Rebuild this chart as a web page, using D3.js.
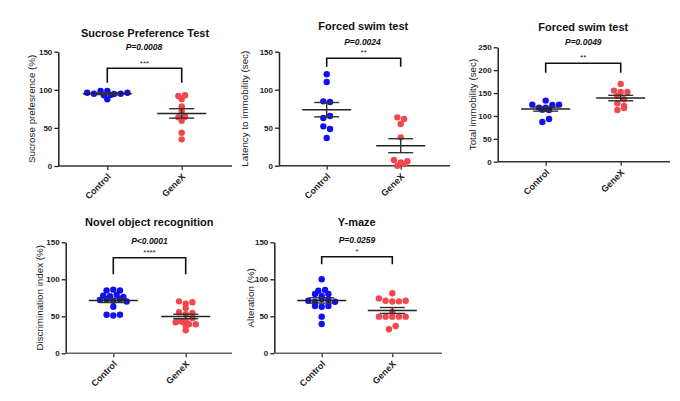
<!DOCTYPE html>
<html>
<head>
<meta charset="utf-8">
<script src="https://cdn.jsdelivr.net/npm/d3@7"></script>
<style>
  html, body { margin: 0; padding: 0; background: #fff; }
  svg { display: block; }
  text { font-family: "Liberation Sans", Arial, sans-serif; }
</style>
</head>
<body>
<svg id="chart" width="680" height="401"></svg>
<script>
// ---------------- DATA ----------------
const categories = ["Control", "GeneX"];

const titles = ["Sucrose Preference Test", "Forced swim test", "Forced swim test",
                "Novel object recognition", "Y-maze"];
const yLabels = ["Sucrose prefesrence (%)", "Latency to immobility (sec)", "Total immobility (sec)",
                 "Discrimination index (%)", "Alteration (%)"];
const pValues = ["P=0.0008", "P=0.0024", "P=0.0049", "P<0.0001", "P=0.0259"];
const stars   = ["***", "**", "**", "****", "*"];

const ticks150 = [0, 50, 100, 150];
const ticks250 = [0, 50, 100, 150, 200, 250];

// Sucrose preference (%)
const sucroseControl = [96.2, 94.9, 92.7, 98.4, 87.5, 98.4, 93.3, 94.5, 94.9, 96.2];
const sucroseGeneX   = [91.9, 92.8, 87.9, 78.3, 72.6, 63.9, 64.7, 59.5, 43.7, 35.0];

// Forced swim: latency to immobility (sec)
const latencyControl = [120.3, 110.1, 84.7, 83.8, 62.8, 65.4, 51.8, 48.3, 36.4];
const latencyGeneX   = [63.6, 61.4, 54.9, 37.3, 7.5, 4.4, 0, 2.2, 5.8];

// Forced swim: total immobility (sec)
const immobilityControl = [124.7, 118.2, 113.8, 133.5, 113.1, 118.2, 124.1, 124.7, 86.9, 93.4];
const immobilityGeneX   = [170, 155.4, 152.5, 152.5, 143.8, 136.5, 127.8, 121.9, 113.1, 117.5];

// Novel object recognition: discrimination index (%)
const norControl = [85, 86, 85, 78, 77, 79, 76, 72, 73, 71, 73, 70, 63, 52, 51, 52];
const norGeneX   = [70.2, 67.1, 68.9, 61.2, 55.4, 52.7, 54.5, 43.6, 44.1, 41.9, 42.7, 47.7, 39.2, 39.2, 37.3, 31.1];

// Y-maze: alteration (%)
const ymazeControl = [100, 84.6, 85.5, 80.1, 77.4, 80.1, 71.1, 69.7, 73.4, 72.0, 69.7, 63.9, 63.0, 63.9, 49.5, 39.6];
const ymazeGeneX   = [81.1, 74.2, 71.1, 70.0, 70.2, 71.1, 55.8, 49.5, 49.5, 49.5, 49.5, 49.5, 32.4, 36.9];

const seriesByPanel = [
  [sucroseControl, sucroseGeneX],
  [latencyControl, latencyGeneX],
  [immobilityControl, immobilityGeneX],
  [norControl, norGeneX],
  [ymazeControl, ymazeGeneX]
];
const yMaxes = [150, 150, 250, 150, 150];
const tickSets = [ticks150, ticks150, ticks250, ticks150, ticks150];

// ---------------- LAYOUT ----------------
const layout = [
  { axisX: 58.3, c: 107.3, g: 181.7, y0: 166,   yTop: 51.7, xEnd: 232, titleX: 145,   titleY: 32.7, pX: 144,   pY: 46.7, starY: 61.7, brTop: 68.3, brBot: 82.7, labX: 31.7 },
  { axisX: 279,  c: 326.7, g: 400.7, y0: 165.7, yTop: 51.7, xEnd: 450, titleX: 363.3, titleY: 26,   pX: 362.5, pY: 41.7, starY: 50.7, brTop: 58.3, brBot: 66.7, labX: 245 },
  { axisX: 497.7,c: 545.7, g: 620.7, y0: 161.7, yTop: 47.3, xEnd: 670, titleX: 583.3, titleY: 27.3, pX: 583.3, pY: 42.3, starY: 55.7, brTop: 63.3, brBot: 72.7, labX: 472.7 },
  { axisX: 65.7, c: 113.3, g: 185.7, y0: 353.3, yTop: 242.3,xEnd: 232, titleX: 149.3, titleY: 222.3,pX: 149.5, pY: 240.7,starY: 251,  brTop: 257.7,brBot: 274.3,labX: 40 },
  { axisX: 274.3,c: 321.7, g: 392.3, y0: 353.3, yTop: 242.3,xEnd: 442, titleX: 356.7, titleY: 222.3,pX: 357,   pY: 240,  starY: 250,  brTop: 256.7,brBot: 264.3,labX: 250.7 }
];

const colors = ["#1010f2", "#f4474d"];
const dotR = 3.2, dotStep = 6.7, rowTol = 3.5;
const meanHalf = 24.5, semHalf = 12.5;

const svg = d3.select("#chart");

// Row-based scatter layout (GraphPad-like column scatter)
function scatterLayout(values, y, cx) {
  const pts = values.map((v, i) => ({ v, i, py: y(v) }));
  const sorted = pts.slice().sort((a, b) => a.py - b.py || a.i - b.i);
  const rows = [];
  let cur = null;
  sorted.forEach(p => {
    if (!cur || p.py - cur.start >= rowTol) { cur = { start: p.py, pts: [] }; rows.push(cur); }
    cur.pts.push(p);
  });
  rows.forEach(r => {
    r.pts.sort((a, b) => a.i - b.i);
    const n = r.pts.length;
    r.pts.forEach((p, k) => { p.px = cx + (k - (n - 1) / 2) * dotStep; });
  });
  return pts;
}

layout.forEach((L, pi) => {
  const g = svg.append("g");
  const y = d3.scaleLinear().domain([0, yMaxes[pi]]).range([L.y0, L.yTop]);
  const x = d3.scalePoint().domain(categories).range([L.c, L.g]);

  // Y axis
  const yAxis = d3.axisLeft(y).tickValues(tickSets[pi]).tickSize(4).tickSizeOuter(0).tickPadding(2);
  const ya = g.append("g").attr("transform", `translate(${L.axisX},0)`).call(yAxis);
  ya.select(".domain").attr("stroke", "#222").attr("stroke-width", 1.5);
  ya.selectAll(".tick line").attr("stroke", "#222").attr("stroke-width", 1.3);
  ya.selectAll(".tick text").attr("font-size", 8).attr("font-weight", "bold").attr("fill", "#222")
    .style("font-family", '"Liberation Sans", Arial, sans-serif');

  // X axis
  const xAxis = d3.axisBottom(x).tickSize(4).tickSizeOuter(0).tickFormat("");
  const xa = g.append("g").attr("transform", `translate(0,${L.y0})`).call(xAxis);
  xa.select(".domain").remove();
  xa.selectAll(".tick line").attr("stroke", "#333").attr("stroke-width", 1.3);
  g.append("line").attr("x1", L.axisX).attr("x2", L.xEnd).attr("y1", L.y0).attr("y2", L.y0)
    .attr("stroke", pi >= 3 ? "#666" : "#333").attr("stroke-width", 1.6);

  categories.forEach(cat => {
    g.append("text")
      .attr("transform", `translate(${x(cat) + 2},${L.y0 + 9}) rotate(-45)`)
      .attr("text-anchor", "end").attr("dy", "0.35em")
      .attr("font-size", 9).attr("font-weight", "bold").attr("fill", "#222")
      .text(cat);
  });

  // Y label
  g.append("text")
    .attr("transform", `translate(${L.labX},${(L.y0 + L.yTop) / 2}) rotate(-90)`)
    .attr("text-anchor", "middle").attr("dy", "0.35em")
    .attr("font-size", 9.8).attr("fill", "#222")
    .text(yLabels[pi]);

  // Title, p value, stars
  g.append("text").attr("x", L.titleX).attr("y", L.titleY).attr("dy", "0.35em")
    .attr("text-anchor", "middle").attr("font-size", 11).attr("font-weight", "bold").attr("fill", "#111")
    .text(titles[pi]);
  g.append("text").attr("x", L.pX).attr("y", L.pY).attr("dy", "0.35em")
    .attr("text-anchor", "middle").attr("font-size", 8.5).attr("font-weight", "bold")
    .attr("font-style", "italic").attr("fill", "#111")
    .text(pValues[pi]);
  g.append("text").attr("x", (x(categories[0]) + x(categories[1])) / 2).attr("y", L.starY + 4.3)
    .attr("text-anchor", "middle").attr("font-size", 8).attr("fill", "#222")
    .text(stars[pi]);

  // Bracket
  g.append("path")
    .attr("d", `M${x(categories[0])},${L.brBot}V${L.brTop}H${x(categories[1])}V${L.brBot}`)
    .attr("fill", "none").attr("stroke", "#111").attr("stroke-width", 1.6);

  // Dots + mean/SEM
  seriesByPanel[pi].forEach((vals, si) => {
    const cx = x(categories[si]);
    const pts = scatterLayout(vals, y, cx);
    g.append("g").selectAll("circle").data(pts).join("circle")
      .attr("cx", d => d.px).attr("cy", d => d.py).attr("r", dotR)
      .attr("fill", colors[si]);

    const m = d3.mean(vals);
    const sem = d3.deviation(vals) / Math.sqrt(vals.length);
    const lg = g.append("g").attr("fill", "none");
    lg.append("line").attr("x1", cx - meanHalf).attr("x2", cx + meanHalf)
      .attr("y1", y(m)).attr("y2", y(m)).attr("stroke", "#222").attr("stroke-width", 1.5);
    lg.append("line").attr("x1", cx).attr("x2", cx).attr("y1", y(m - sem)).attr("y2", y(m + sem))
      .attr("stroke", "#333").attr("stroke-width", 1.4);
    [m - sem, m + sem].forEach(v => {
      lg.append("line").attr("x1", cx - semHalf).attr("x2", cx + semHalf)
        .attr("y1", y(v)).attr("y2", y(v)).attr("stroke", "#333").attr("stroke-width", 1.4);
    });
  });
});
</script>
</body>
</html>
